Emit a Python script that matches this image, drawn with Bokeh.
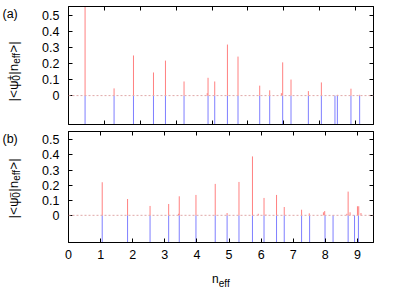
import math
from bokeh.plotting import figure
from bokeh.layouts import column, row
from bokeh.models import LinearAxis, FixedTicker, NumeralTickFormatter, Span
from bokeh.core.properties import value
from bokeh.embed import file_html
from bokeh.resources import INLINE

# ---------------- data ----------------
# panel (a): |<psi0+|n_eff>|
a_red_x = [0.462, 1.270, 1.811, 2.368, 2.702, 3.220, 3.866, 3.889, 4.075, 4.429, 4.724,
           5.329, 5.607, 5.933, 5.969, 6.201, 6.685, 7.047, 7.501, 7.872, 8.114]
a_red_y = [0.600, 0.045, 0.250, 0.144, 0.218, 0.088, 0.015, 0.111, 0.088, 0.318, 0.243,
           0.062, 0.033, 0.015, 0.207, 0.100, 0.028, 0.082, 0.005, 0.043, 0.005]
a_blue_x = [0.462, 1.270, 1.811, 2.368, 2.702, 3.220, 3.889, 4.075, 4.429, 4.724, 5.329,
            5.607, 5.969, 6.201, 6.685, 7.047, 7.426, 7.493, 7.872, 8.114]
# panel (b): |<psi0-|n_eff>|
b_red_x = [1.05, 1.84, 2.54, 3.12, 3.43, 3.45, 3.97, 4.57, 4.94, 5.31, 5.73, 5.91, 6.09,
           6.15, 6.48, 6.72, 7.26, 7.50, 7.94, 7.98, 8.67, 8.71, 8.77, 9.00, 9.04, 9.11]
b_red_y = [0.219, 0.108, 0.062, 0.075, 0.010, 0.126, 0.135, 0.208, 0.015, 0.221, 0.390,
           0.010, 0.115, 0.005, 0.135, 0.055, 0.037, 0.013, 0.020, 0.028, 0.010, 0.157,
           0.020, 0.060, 0.060, 0.015]
b_blue_x = [1.05, 1.84, 2.54, 3.12, 3.45, 3.97, 4.57, 4.94, 5.31, 5.73, 6.09, 6.48, 6.72,
            7.26, 7.51, 7.99, 8.24, 8.71, 8.91, 9.03]

y_ticks = [0, 0.1, 0.2, 0.3, 0.4, 0.5]
a_x_ticks = [1, 2, 3, 4, 5, 6, 7, 8]
b_x_ticks = [0, 1, 2, 3, 4, 5, 6, 7, 8, 9]

# ---------------- style / geometry ----------------
FONT = "Liberation Sans"
RED = "#ff8080"
BLUE = "#7f7fff"
TOTAL_W, TOTAL_H = 395, 295
LW = 30                 # side strip holding the y titles
W = TOTAL_W - LW
FL, FR = 38, 22         # frame spans x 68..373 overall
Y_RANGE = (-0.18, 0.555)

CW = {'|': 0.26, '<': 0.584, '>': 0.584, ' ': 0.278, 'n': 0.556, 'e': 0.556,
      'f': 0.278, '0': 0.556, '+': 0.584, '\u2212': 0.584, '\u03c8': 0.70}


def tw(s, size):
    return sum(CW.get(c, 0.556) for c in s) * size


def make_fig(height, top, bottom, x_range, x_ticks, show_xlabels):
    p = figure(width=W, height=height, x_range=x_range, y_range=Y_RANGE,
               output_backend="svg", toolbar_location=None,
               min_border_left=FL, min_border_right=FR,
               min_border_top=top, min_border_bottom=bottom,
               x_axis_location=None, y_axis_location=None)
    p.grid.visible = False
    p.outline_line_color = "black"
    p.outline_line_width = 1
    p.border_fill_color = "white"
    for loc in ("left", "right"):
        ax = LinearAxis(ticker=FixedTicker(ticks=y_ticks),
                        formatter=NumeralTickFormatter(format="0.[0]"))
        ax.major_tick_in = 4
        ax.major_tick_out = 0
        ax.minor_tick_line_color = None
        ax.axis_line_color = "black"
        ax.major_tick_line_color = "black"
        if loc == "left":
            ax.major_label_text_font = FONT
            ax.major_label_text_font_size = "12.5px"
            ax.major_label_text_color = "black"
            ax.major_label_standoff = 9
        else:
            ax.major_label_text_font_size = "0px"
            ax.major_label_text_color = None
            ax.major_label_standoff = 0
        p.add_layout(ax, loc)
    for loc in ("below", "above"):
        ax = LinearAxis(ticker=FixedTicker(ticks=x_ticks))
        ax.major_tick_in = 4
        ax.major_tick_out = 0
        ax.minor_tick_line_color = None
        ax.axis_line_color = "black"
        ax.major_tick_line_color = "black"
        if loc == "below" and show_xlabels:
            ax.major_label_text_font = FONT
            ax.major_label_text_font_size = "12.5px"
            ax.major_label_text_color = "black"
            ax.major_label_standoff = 7
        else:
            ax.major_label_text_font_size = "0px"
            ax.major_label_text_color = None
            ax.major_label_standoff = 0
        p.add_layout(ax, loc)
    return p


def text_strip(width, height):
    """Blank figure; texts are anchored at its top-left corner and placed by pixel offsets."""
    s = figure(width=width, height=height, x_range=(0, 1), y_range=(0, 1),
               output_backend="svg", toolbar_location=None,
               min_border_left=0, min_border_right=0, min_border_top=0, min_border_bottom=0,
               x_axis_location=None, y_axis_location=None)
    s.grid.visible = False
    s.outline_line_color = None
    s.border_fill_color = "white"
    return s


def put(s, x, y, txt, size, angle=0.0, align="left", baseline="alphabetic"):
    s.text(x=[0], y=[1], x_offset=x, y_offset=y, text=[txt], angle=angle,
           text_font=value(FONT), text_font_size=value(f"{size}px"),
           text_align=align, text_baseline=baseline, text_color="black")


def add_ylabel(s, sup, y_start):
    big, small = 13.5, 10
    xc, xsub, xsup = 12.5, 15.5, 9.7
    pieces = [("|<\u03c8", big, xc, tw("|<\u03c8", big)),
              ("0", small, xsub, 0.0),
              (sup, small, xsup, tw(sup, small)),
              ("|n", big, xc, tw("|n", big)),
              ("eff", small, xsub, tw("eff", small)),
              (" >|", big, xc, tw(" >|", big))]
    y = y_start
    for txt, size, xx, adv in pieces:
        put(s, xx, y, txt, size, angle=math.pi / 2, baseline="middle")
        y -= adv


# ---------------- panel (a) ----------------
XA = (0, 8.5)
H1 = 126
pa = make_fig(H1, 6, 2, XA, a_x_ticks, False)
pa.add_layout(Span(location=0, dimension="width", line_color="#e0a8a8",
                   line_dash="2 2", line_width=1))
pa.segment(x0=a_blue_x, y0=0, x1=a_blue_x, y1=Y_RANGE[0] - 1, line_color=BLUE, line_width=1)
pa.segment(x0=a_red_x, y0=0, x1=a_red_x, y1=a_red_y, line_color=RED, line_width=1)
sa = text_strip(LW, H1)
add_ylabel(sa, "+", 95)
put(sa, 2, 0, "(a)", 12.5, baseline="top")

# ---------------- panel (b) ----------------
XB = (0, 9.5)
H2 = 142
pb = make_fig(H2, 5, 26, XB, b_x_ticks, True)
pb.add_layout(Span(location=0, dimension="width", line_color="#e0a8a8",
                   line_dash="2 2", line_width=1))
pb.segment(x0=b_blue_x, y0=0, x1=b_blue_x, y1=Y_RANGE[0] - 1, line_color=BLUE, line_width=1)
pb.segment(x0=b_red_x, y0=0, x1=b_red_x, y1=b_red_y, line_color=RED, line_width=1)
sb = text_strip(LW, H2)
add_ylabel(sb, "\u2212", 87)
put(sb, 2, 0, "(b)", 12.5, baseline="top")

# ---------------- x-axis title n_eff ----------------
H3 = TOTAL_H - H1 - H2
sx = text_strip(TOTAL_W, H3)
n_w, e_w = tw("n", 12), tw("eff", 10)
frame_center = LW + FL + (W - FL - FR) / 2
start = frame_center - (n_w + e_w) / 2
put(sx, start, 10.3, "n", 12)
put(sx, start + n_w, 14.5, "eff", 10)

layout = column(row(sa, pa, spacing=0), row(sb, pb, spacing=0), sx, spacing=0)
open("out.html", "w").write(file_html(layout, INLINE))
